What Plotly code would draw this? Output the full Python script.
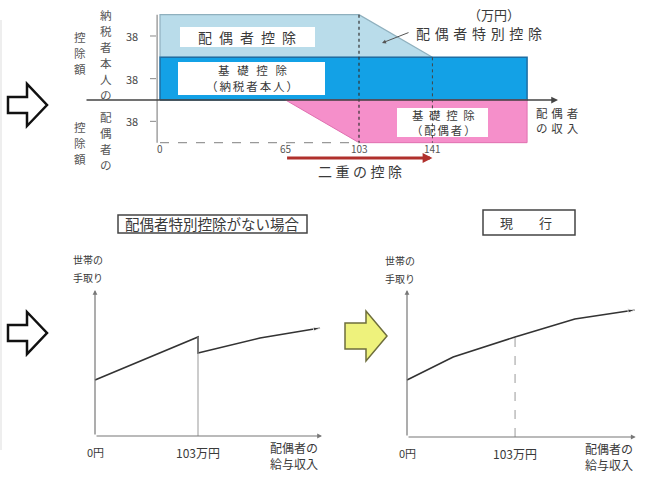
import plotly.graph_objects as go

# ---------------- data ----------------
# upper panel (万円)
income_breaks = [0, 65, 103, 141]   # spouse income break points
deduction = 38                      # each deduction amount
band_end = 190                      # right end of drawn bands
xtick_labels = ["0", "65", "103", "141"]
ytick_label = "38"

# lower-left: 配偶者特別控除がない場合
income_no_special = [0, 103, 103, 165, 225]
takehome_no_special = [56, 99, 83, 98, 108]

# lower-right: 現行
income_current = [0, 44, 103, 160, 217]
takehome_current = [57, 80, 100, 118, 127]

# ---------------- layout helpers ----------------
W, H = 646, 477
FONT = "Noto Sans CJK JP"
TXT = "#3a3a3a"
EN = "\u2002"
S3 = "\u2004"
S4 = "\u2005"
S6 = "\u2006"


def sp(text, gap):
    return gap.join(list(text))


def px(x):
    return x / W


def py(y):
    return 1 - y / H


def label(x, y, text, size=12, color=TXT, **kw):
    d_ = dict(xref="paper", yref="paper", x=px(x), y=py(y), text=text, showarrow=False,
              xanchor="center", yanchor="middle",
              font=dict(family=FONT, size=size, color=color))
    d_.update(kw)
    return d_


def lines(x, y0, texts, step, size=12, color=TXT):
    return [label(x, y0 + i * step, t, size, color) for i, t in enumerate(texts)]


b0, b1, b2, b3 = income_breaks
d = deduction

fig = go.Figure()

# ---- upper panel marks ----
fig.add_trace(go.Scatter(
    x=[b0, b0, b2, b3, b0], y=[d, 2 * d, 2 * d, d, d],
    fill="toself", fillcolor="#b9dcea", mode="lines",
    line=dict(color="#8fb0be", width=1.2), xaxis="x", yaxis="y", hoverinfo="skip"))
fig.add_trace(go.Scatter(
    x=[b0, band_end, band_end, b0, b0], y=[0, 0, d, d, 0],
    fill="toself", fillcolor="#13a1e6", mode="lines",
    line=dict(color="#1f6ea3", width=1.5), xaxis="x", yaxis="y", hoverinfo="skip"))
fig.add_trace(go.Scatter(
    x=[b1, b2, band_end, band_end, b1], y=[0, -d, -d, 0, 0],
    fill="toself", fillcolor="#f58fca", mode="lines",
    line=dict(color="#e070b0", width=1), xaxis="x", yaxis="y", hoverinfo="skip"))

# ---- lower panels lines ----
fig.add_trace(go.Scatter(
    x=income_no_special, y=takehome_no_special, mode="lines+markers",
    line=dict(color="#333333", width=1.6),
    marker=dict(symbol="arrow", angleref="previous",
                size=[0] * (len(income_no_special) - 1) + [7], color="#333333"),
    xaxis="x2", yaxis="y2", hoverinfo="skip"))
fig.add_trace(go.Scatter(
    x=income_current, y=takehome_current, mode="lines+markers",
    line=dict(color="#333333", width=1.6),
    marker=dict(symbol="arrow", angleref="previous",
                size=[0] * (len(income_current) - 1) + [7], color="#333333"),
    xaxis="x3", yaxis="y3", hoverinfo="skip"))

shapes = []
ann = []

# ---- upper panel decorations ----
TX0, TSX, TY0, TSY = 160, 1.932, 100, 1.123


def tx(p):
    return (p - TX0) / TSX


def ty(p):
    return (TY0 - p) / TSY


for (x0, y0, x1, y1) in [(180, 27, 315, 47), (178, 62, 325, 95), (397, 108, 488, 137)]:
    shapes.append(dict(type="rect", xref="x", yref="y", x0=tx(x0), x1=tx(x1),
                       y0=ty(y0), y1=ty(y1), fillcolor="white",
                       line=dict(width=0), layer="above"))

# dotted verticals at 103 and 141
shapes.append(dict(type="line", xref="x", yref="y", x0=b2, x1=b2, y0=2 * d, y1=-d,
                   line=dict(color="#333", width=1.2, dash="dot"), layer="above"))
shapes.append(dict(type="line", xref="x", yref="y", x0=b3, x1=b3, y0=d, y1=-d,
                   line=dict(color="#444", width=1, dash="dot"), layer="above"))
# left axis and dashed base line
shapes.append(dict(type="line", xref="x", yref="y", x0=-1.5, x1=-1.5, y0=-d, y1=2 * d,
                   line=dict(color="#8a8a8a", width=1.2)))
shapes.append(dict(type="line", xref="x", yref="y", x0=b0, x1=b2, y0=-d, y1=-d,
                   line=dict(color="#999", width=1.2, dash="dash")))
# y ticks and labels
for yv in [1.5 * d, 0.5 * d, -0.5 * d]:
    shapes.append(dict(type="line", xref="x", yref="y", x0=tx(150), x1=tx(156), y0=yv, y1=yv,
                       line=dict(color="#888", width=1)))
    ann.append(dict(xref="x", yref="y", x=tx(132), y=yv, text=ytick_label, showarrow=False,
                    xanchor="center", yanchor="middle",
                    font=dict(family=FONT, size=11, color="#444")))
# x tick labels
for xv, lab in zip(income_breaks, xtick_labels):
    ann.append(dict(xref="x", yref="y", x=xv, y=ty(148), text=lab, showarrow=False,
                    xanchor="center", yanchor="middle",
                    font=dict(family=FONT, size=10, color="#555")))
# horizontal axis with arrow
ann.append(dict(xref="x", yref="y", axref="x", ayref="y", x=tx(558), y=0, ax=tx(85), ay=0,
                text="", showarrow=True, arrowhead=2, arrowsize=0.9, arrowwidth=1.5,
                arrowcolor="#444"))
# 二重の控除 arrow
ann.append(dict(xref="x", yref="y", axref="x", ayref="y", x=b3, y=ty(158), ax=b1, ay=ty(158),
                text="", showarrow=True, arrowhead=2, arrowsize=0.7, arrowwidth=2.8,
                arrowcolor="#b0302c"))
ann.append(label(360, 171, sp("二重の控除", S4), 14))
# box labels
ann.append(label(247, 37, sp("配偶者控除", EN), 14))
ann += lines(252, 70, [sp("基礎控除", EN + S6), sp("（納税者本人）", S6)], 15.8, 11.5)
ann += lines(443, 114.5, [sp("基礎控除", EN), sp("（配偶者）", S6)], 15.6, 11.4)
# 配偶者特別控除 label with arrow
ann.append(label(479, 33, sp("配偶者特別控除", S3), 14))
ann.append(label(494, 15, "（万円）", 13))
ann.append(dict(xref="paper", yref="paper", axref="pixel", ayref="pixel",
                x=px(382), y=py(43), ax=28, ay=-11, text="", showarrow=True,
                arrowhead=2, arrowsize=0.8, arrowwidth=1, arrowcolor="#555"))
ann += lines(557, 112.5, [sp("配偶者", S3), sp("の収入", S3)], 15.5, 11.5)
# vertical left labels (one character per line)
ann += lines(106, 15, list("納税者本人の"), 16, 11.6, "#555")
ann += lines(80, 37, list("控除額"), 16, 11.6, "#555")
ann += lines(106, 117, list("配偶者の"), 16, 11.6, "#555")
ann += lines(80, 127, list("控除額"), 16, 11.6, "#555")

# ---- outlined arrows on the left and yellow arrow ----


def arrow_path(xa, xn, xb, yc, hb, hh):
    pts = [(xa, yc - hb), (xn, yc - hb), (xn, yc - hh), (xb, yc), (xn, yc + hh),
           (xn, yc + hb), (xa, yc + hb)]
    s = "M " + " L ".join(f"{px(a):.5f},{py(b):.5f}" for a, b in pts) + " Z"
    return s


for yc in [105, 333]:
    shapes.append(dict(type="path", xref="paper", yref="paper",
                       path=arrow_path(8, 27, 47, yc, 8, 21), fillcolor="white",
                       line=dict(color="#111", width=2.5)))
shapes.append(dict(type="path", xref="paper", yref="paper",
                   path=arrow_path(345, 366, 387, 336, 13, 25), fillcolor="#eef27c",
                   line=dict(color="#6e6e3c", width=1.5)))
# faint frame line at far left
shapes.append(dict(type="line", xref="paper", yref="paper", x0=px(1), x1=px(1),
                   y0=py(20), y1=py(450), line=dict(color="#dddddd", width=1)))

# ---- lower panels decorations ----
for (xa, ya, xend, ytop, incomes, takes, dash, titlebox, title, tcx, tsize) in [
        ("x2", "y2", 227, 146, income_no_special, takehome_no_special, "solid",
         (118, 215, 307, 233), "配偶者特別控除がない場合", 212, 14.5),
        ("x3", "y3", 218, 147, income_current, takehome_current, "dash",
         (483, 210, 575, 235), "現　　行", 526, 13)]:
    # axes with arrows
    ann.append(dict(xref=xa, yref=ya, axref=xa, ayref=ya, x=xend, y=0, ax=0, ay=0, text="",
                    showarrow=True, arrowhead=2, arrowsize=0.8, arrowwidth=1.2,
                    arrowcolor="#777"))
    ann.append(dict(xref=xa, yref=ya, axref=xa, ayref=ya, x=0, y=ytop, ax=0, ay=0, text="",
                    showarrow=True, arrowhead=2, arrowsize=0.8, arrowwidth=1.2,
                    arrowcolor="#777"))
    # vertical line at 103
    top103 = max(t for i, t in zip(incomes, takes) if i == 103)
    shapes.append(dict(type="line", xref=xa, yref=ya, x0=103, x1=103, y0=0, y1=top103,
                       line=dict(color="#999", width=1, dash=dash)))
    # title box
    x0, y0, x1, y1 = titlebox
    shapes.append(dict(type="rect", xref="paper", yref="paper", x0=px(x0), x1=px(x1),
                       y0=py(y0), y1=py(y1), line=dict(color="#444", width=1.5),
                       fillcolor="white"))
    ann.append(label(tcx, (y0 + y1) / 2, title, tsize))
    # tick labels
    ann.append(dict(xref=xa, yref=ya, x=0, y=-16, text="0円", showarrow=False,
                    xanchor="center", yanchor="middle",
                    font=dict(family=FONT, size=11, color=TXT)))
    ann.append(dict(xref=xa, yref=ya, x=103, y=-16, text="103万円", showarrow=False,
                    xanchor="center", yanchor="middle",
                    font=dict(family=FONT, size=12, color=TXT)))

ann += lines(88, 259, ["世帯の", "手取り"], 18, 10)
ann += lines(400, 260, ["世帯の", "手取り"], 18, 10)
ann += lines(294, 447, ["配偶者の", "給与収入"], 16, 12)
ann += lines(609, 448, ["配偶者の", "給与収入"], 16, 12)

noax = dict(visible=False, fixedrange=True)
fig.update_layout(
    width=W, height=H, autosize=False,
    margin=dict(l=0, r=0, t=0, b=0),
    paper_bgcolor="white", plot_bgcolor="rgba(0,0,0,0)",
    showlegend=False,
    xaxis=dict(domain=[0, 1], range=[(0 - TX0) / TSX, (W - TX0) / TSX], anchor="y", **noax),
    yaxis=dict(domain=[1 - 200 / H, 1], range=[-TY0 / TSY, TY0 / TSY], anchor="x", **noax),
    xaxis2=dict(domain=[0, 330 / W], range=[-95, 235], anchor="y2", **noax),
    yaxis2=dict(domain=[0, 277 / H], range=[-41, 236], anchor="x2", **noax),
    xaxis3=dict(domain=[330 / W, 1], range=[(330 - 407) / 1.049, (646 - 407) / 1.049],
                anchor="y3", **noax),
    yaxis3=dict(domain=[0, 277 / H], range=[-40, 237], anchor="x3", **noax),
    shapes=shapes, annotations=ann,
    font=dict(family=FONT),
)

fig.write_html("out.html")
